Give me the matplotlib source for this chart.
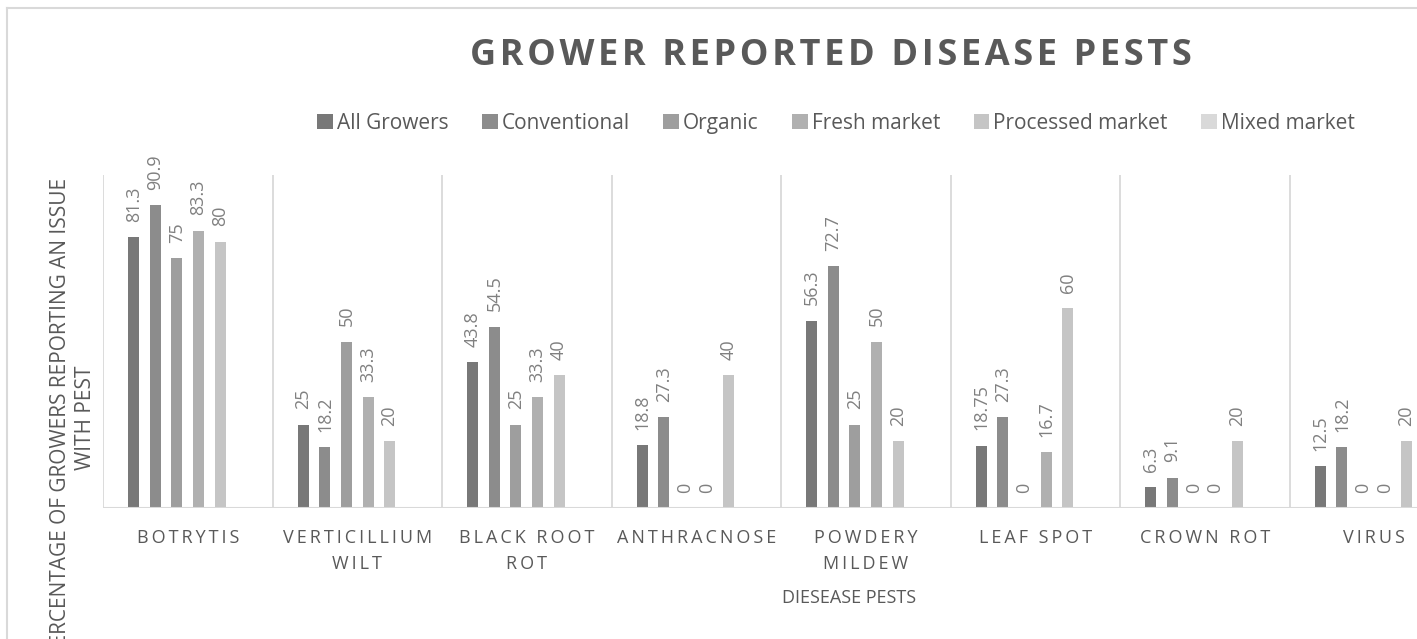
#!/usr/bin/env python3

import numpy as np
import matplotlib
matplotlib.use('Agg')
import matplotlib.pyplot as plt
from matplotlib.lines import Line2D

plt.rcParams['font.family'] = ['Open Sans', 'DejaVu Sans']

# data
categories = ['BOTRYTIS', 'VERTICILLIUM\nWILT', 'BLACK ROOT\nROT', 'ANTHRACNOSE',
              'POWDERY\nMILDEW', 'LEAF SPOT', 'CROWN ROT', 'VIRUS']
series_names = ['All Growers', 'Conventional', 'Organic', 'Fresh market',
                'Processed market', 'Mixed market']
all_growers = [81.3, 25, 43.8, 18.8, 56.3, 18.75, 6.3, 12.5]
conventional = [90.9, 18.2, 54.5, 27.3, 72.7, 27.3, 9.1, 18.2]
organic = [75, 50, 25, 0, 25, 0, 0, 0]
fresh_market = [83.3, 33.3, 33.3, 0, 50, 16.7, 0, 0]
processed_market = [80, 20, 40, 40, 20, 60, 20, 20]
mixed_market = [None] * 8
labels_fmt = {18.75: '18.75'}

series = [all_growers, conventional, organic, fresh_market, processed_market, mixed_market]
colors = ['#787878', '#8c8c8c', '#9e9e9e', '#b0b0b0', '#c5c5c5', '#d9d9d9']
text_col = '#595959'
lab_col = '#808080'
grid_col = '#d9d9d9'


def spaced(s, sep='\u2009', gap=' \u2009\u2009'):
    # letter spacing, with wider gaps between words
    out = []
    for line in s.split('\n'):
        out.append(gap.join(sep.join(w) for w in line.split(' ')))
    return '\n'.join(out)


fig = plt.figure(figsize=(14.17, 6.39), dpi=100)
W, H = 1417, 639
ax = fig.add_axes([103 / W, (H - 508) / H, 1356 / W, 333 / H])

x = np.arange(len(categories))
step = 0.127
width = 0.065
for k, (vals, name, c) in enumerate(zip(series, series_names, colors)):
    v = np.array([np.nan if a is None else a for a in vals], dtype=float)
    pos = x + (k - 2.5) * step
    ax.bar(pos, np.nan_to_num(v, nan=0.0), width, color=c, label=name, zorder=3)
    for p, val in zip(pos, vals):
        if val is None:
            continue
        txt = labels_fmt.get(val, f'{val:g}')
        ax.annotate(txt, (p, val), xytext=(0, 11), textcoords='offset points',
                    rotation=90, ha='center', va='bottom', fontsize=13, color=lab_col)

ax.set_xlim(-0.5, len(categories) - 0.5)
ax.set_ylim(0, 100)
for i in range(len(categories) + 1):
    ax.axvline(i - 0.5, color=grid_col, lw=1.3, zorder=1)
for s in ax.spines.values():
    s.set_visible(False)
ax.axhline(0, color=grid_col, lw=1.5, zorder=4)
ax.set_yticks([])
ax.set_xticks(x)
ax.set_xticklabels([spaced(c) for c in categories], fontsize=13,
                   color=text_col, linespacing=1.55)
ax.tick_params(axis='x', length=0, pad=15)

fig.text(849 / W, 1 - 598 / H, 'DIESEASE PESTS', ha='center', va='center',
         fontsize=13, color=text_col)
fig.text(73 / W, 1 - 418 / H, 'PERCENTAGE OF GROWERS REPORTING AN ISSUE\nWITH PEST',
         ha='center', va='center', rotation=90, fontsize=15, color=text_col,
         linespacing=1.2, multialignment='center')
fig.text(831 / W, 1 - 56 / H, spaced('GROWER REPORTED DISEASE PESTS', '\u200a', ' \u2009'),
         ha='center', va='center', fontsize=26, fontweight='bold', color=text_col)

leg = fig.legend(loc='center', bbox_to_anchor=(836 / W, 1 - 123 / H), ncol=6,
                 frameon=False, fontsize=15, handlelength=0.75, handleheight=0.75,
                 handletextpad=0.2, columnspacing=1.6, labelcolor=text_col)

# chart border
fig.add_artist(Line2D([7 / W, 7 / W], [0, 1 - 8 / H], color=grid_col, lw=1.5,
                      transform=fig.transFigure))
fig.add_artist(Line2D([7 / W, 1], [1 - 8 / H, 1 - 8 / H], color=grid_col, lw=1.5,
                      transform=fig.transFigure))

fig.savefig('out.png', dpi=100)
